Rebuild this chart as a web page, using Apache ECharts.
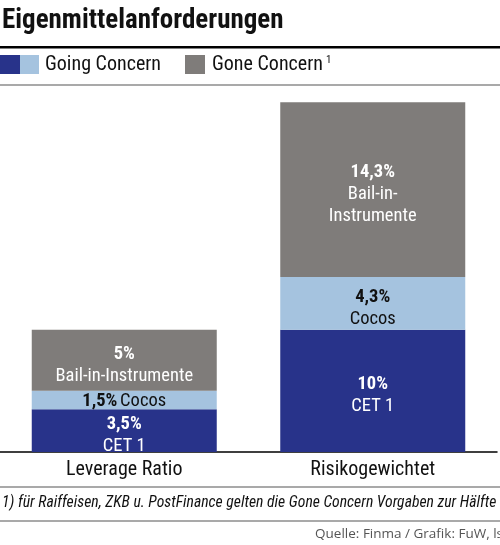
<!DOCTYPE html>
<html>
<head>
<meta charset="utf-8">
<script src="https://cdn.jsdelivr.net/npm/echarts@6/dist/echarts.min.js"></script>
<style>
  html, body { margin: 0; padding: 0; background: #fff; }
  #chart { width: 500px; height: 545px; }
</style>
</head>
<body>
<div id="chart"></div>
<script>
var categories = ['Leverage Ratio', 'Risikogewichtet'];
var cet1 = [3.5, 10];
var cocos = [1.5, 4.3];
var bailIn = [5, 14.3];
var cet1Names = ['CET 1', 'CET 1'];
var cocosNames = ['Cocos', 'Cocos'];
var bailInNames = ['Bail-in-Instrumente', 'Bail-in-\nInstrumente'];

var FONT = '"Roboto Condensed", "DejaVu Sans Condensed", sans-serif';
var DARK = '#28338a';
var LIGHT = '#a5c3df';
var GRAY = '#7f7c7a';
var INLINE_BELOW = 2; // segments smaller than this get value + name on one line

function pct(v) {
    return String(v).replace('.', ',') + '%';
}

function makeLabel(names, color) {
    return {
        show: true,
        position: 'inside',
        offset: [0, 5],
        fontFamily: FONT,
        formatter: function (p) {
            var sep = p.value < INLINE_BELOW ? ' ' : '\n';
            return '{b|' + pct(p.value) + '}' + sep + '{n|' + names[p.dataIndex] + '}';
        },
        rich: {
            b: { fontFamily: FONT, fontWeight: 'bold', fontSize: 18.5, lineHeight: 22, color: color },
            n: { fontFamily: FONT, fontSize: 18.5, lineHeight: 22, color: color }
        }
    };
}

function items(values) {
    return values.map(function (v) {
        return v < INLINE_BELOW ? { value: v, label: { offset: [0, 1] } } : v;
    });
}

var chart = echarts.init(document.getElementById('chart'));

var option = {
    animation: false,
    grid: { left: 0, right: 3, top: 85, bottom: 93 },
    xAxis: {
        type: 'category',
        data: categories,
        axisLine: { lineStyle: { color: '#000', width: 1.5 } },
        axisTick: { show: false },
        axisLabel: { fontFamily: FONT, fontSize: 20, color: '#111', margin: 8 }
    },
    yAxis: {
        type: 'value',
        min: 0,
        max: 30,
        show: false
    },
    series: [
        {
            name: 'CET 1', type: 'bar', stack: 'all', barWidth: 185,
            itemStyle: { color: DARK },
            label: makeLabel(cet1Names, '#fff'),
            data: items(cet1)
        },
        {
            name: 'Cocos', type: 'bar', stack: 'all', barWidth: 185,
            itemStyle: { color: LIGHT },
            label: makeLabel(cocosNames, '#111'),
            data: items(cocos)
        },
        {
            name: 'Bail-in-Instrumente', type: 'bar', stack: 'all', barWidth: 185,
            itemStyle: { color: GRAY },
            label: makeLabel(bailInNames, '#fff'),
            data: items(bailIn)
        }
    ],
    graphic: [
        { type: 'text', left: 2, top: 8, style: { text: 'Eigenmittelanforderungen', fontFamily: FONT, fontWeight: 'bold', fontSize: 27, fill: '#111' } },
        { type: 'rect', shape: { x: 0, y: 46, width: 500, height: 2.5 }, style: { fill: '#000' } },
        { type: 'rect', shape: { x: 0, y: 55, width: 20, height: 19 }, style: { fill: DARK } },
        { type: 'rect', shape: { x: 20, y: 55, width: 19, height: 19 }, style: { fill: LIGHT } },
        { type: 'text', x: 45, y: 65, style: { text: 'Going Concern', fontFamily: FONT, fontSize: 20, fill: '#111', verticalAlign: 'middle' } },
        { type: 'rect', shape: { x: 185, y: 55, width: 20, height: 19 }, style: { fill: GRAY } },
        { type: 'text', x: 212, y: 65, style: { text: 'Gone Concern', fontFamily: FONT, fontSize: 20, fill: '#111', verticalAlign: 'middle' } },
        { type: 'text', x: 326, y: 60, style: { text: '1', fontFamily: FONT, fontSize: 11, fill: '#111', verticalAlign: 'middle' } },
        { type: 'rect', shape: { x: 0, y: 84.5, width: 500, height: 1 }, style: { fill: '#555' } },
        { type: 'rect', shape: { x: 0, y: 486.5, width: 500, height: 1 }, style: { fill: '#555' } },
        { type: 'text', x: 2, y: 503, style: { text: '1) für Raiffeisen, ZKB u. PostFinance gelten die Gone Concern Vorgaben zur Hälfte', fontFamily: FONT, fontStyle: 'italic', fontSize: 15.7, fill: '#111', verticalAlign: 'middle' } },
        { type: 'rect', shape: { x: 0, y: 520.5, width: 500, height: 1 }, style: { fill: '#555' } },
        { type: 'text', x: 503, y: 534, style: { text: 'Quelle: Finma / Grafik: FuW, ls', fontFamily: '"Open Sans", sans-serif', fontSize: 13.5, fill: '#555', align: 'right', verticalAlign: 'middle' } }
    ]
};

chart.setOption(option);
window.addEventListener('resize', chart.resize);
</script>
</body>
</html>
